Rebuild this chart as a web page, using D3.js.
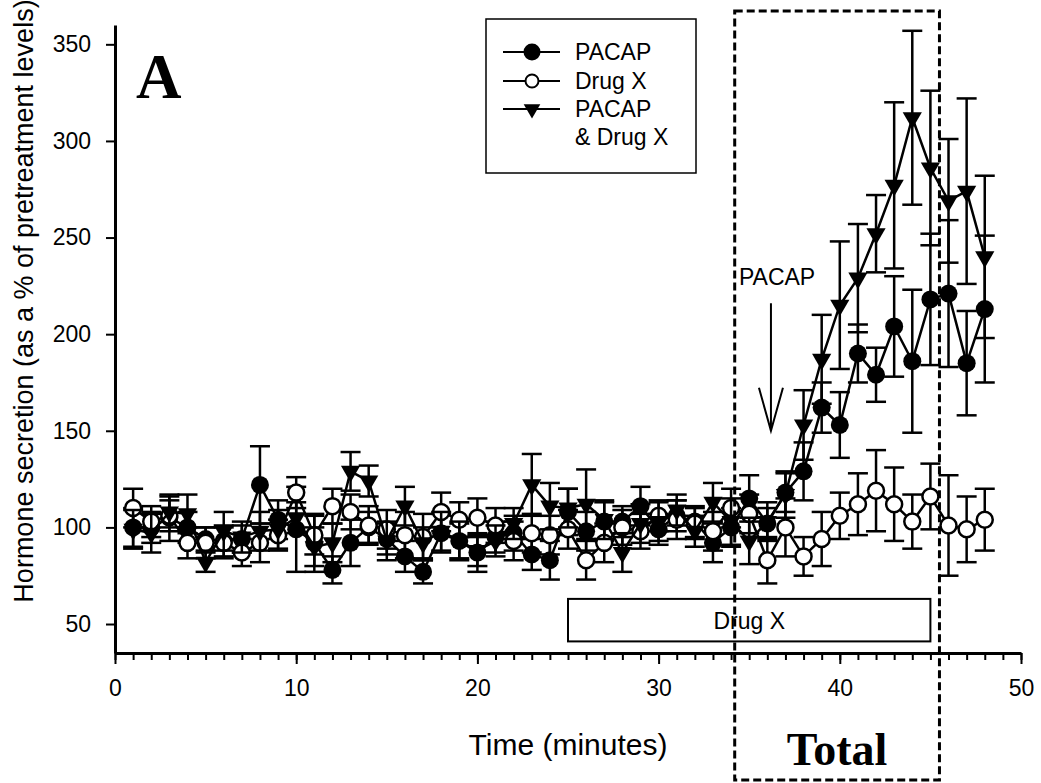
<!DOCTYPE html>
<html>
<head>
<meta charset="utf-8">
<script src="https://cdn.jsdelivr.net/npm/d3@7"></script>
<style>
  body { margin: 0; background: #fff; }
  svg { display: block; }
  text { font-family: Arial, "Liberation Sans", Helvetica, sans-serif; fill: #000; }
</style>
</head>
<body>
<div id="chart"></div>
<script>
// time points (minutes)
const times = d3.range(1, 49);

// PACAP alone (filled circles)
const pacap = [100,100,105,100,94,93,94,122,104,99,92,78,92,100,94,85,77,97,93,87,
               95,97,86,83,108,98,103,103,111,99,106,103,92,100,115,102,118,129,162,153,
               190,179,204,186,218,221,185,213];
const pacapErr = [10,8,12,8,6,8,7,20,10,22,15,7,12,8,8,8,6,10,9,10,
                  8,9,8,10,12,10,10,8,10,8,8,8,10,10,12,8,10,15,13,17,
                  15,14,26,37,34,38,27,38];

// Drug X alone (open circles)
const drugX = [110,103,106,92,92,92,87,92,96,118,96,111,108,101,99,96,95,108,104,105,
               101,93,97,96,99,83,92,100,98,106,104,102,98,110,107,83,100,85,94,106,
               112,119,112,103,116,101,99,104];
const drugXErr = [10,8,8,8,8,8,7,10,8,8,10,9,9,10,10,12,12,10,9,10,
                  9,10,10,10,10,10,10,9,9,8,10,8,10,10,10,12,15,10,14,12,
                  16,21,19,14,17,26,17,16];

// PACAP & Drug X (filled triangles)
const combo = [99,97,108,107,82,98,95,98,99,105,90,92,129,124,93,111,92,98,93,88,
               93,102,122,111,110,112,104,87,102,103,109,98,113,103,93,103,117,153,187,215,
               229,252,277,312,286,269,274,240];
const comboErr = [10,10,8,10,5,10,8,10,10,8,10,10,10,8,10,10,8,10,10,8,
                  8,8,16,12,10,18,10,10,10,10,8,8,10,12,12,10,12,18,23,33,
                  28,20,43,45,40,32,48,42];

const seriesNames = ['PACAP', 'Drug X', 'PACAP', '& Drug X'];
const xTicks = [0, 10, 20, 30, 40, 50];
const yTicks = [50, 100, 150, 200, 250, 300, 350];

// annotation values (in data units)
const drugBar = {from: 25, to: 45, low: 41, high: 63};
const pacapArrow = {t: 36.2, top: 216, tip: 150};
const totalWindow = [34.2, 45.5];

const W = 1041, H = 783;
const svg = d3.select('#chart').append('svg')
    .attr('width', W)
    .attr('height', H);

const x = d3.scaleLinear().domain([0, 50]).range([115, 1021]);
const y = d3.scaleLinear().domain([35, 360]).range([653, 25]);

//************** AXES ******************//
const yAxis = svg.append('g')
    .attr('transform', `translate(${x(0)},0)`)
    .call(d3.axisLeft(y).tickValues(yTicks).tickSize(9).tickSizeOuter(0).tickPadding(15));
yAxis.select('.domain').attr('stroke-width', 3);
yAxis.selectAll('.tick line').attr('stroke-width', 2);
yAxis.selectAll('text').style('font-size', '23px');

const xMinor = svg.append('g')
    .attr('transform', `translate(0,${y(35)})`)
    .call(d3.axisBottom(x).tickValues(d3.range(0, 51)).tickSize(7).tickSizeOuter(0).tickFormat(''));
xMinor.select('.domain').attr('stroke-width', 3);
xMinor.selectAll('.tick line').attr('stroke-width', 2);

const xMajor = svg.append('g')
    .attr('transform', `translate(0,${y(35)})`)
    .call(d3.axisBottom(x).tickValues(xTicks).tickSize(11).tickSizeOuter(0).tickPadding(16));
xMajor.select('.domain').remove();
xMajor.selectAll('.tick line').attr('stroke-width', 2);
xMajor.selectAll('text').style('font-size', '23px');

// axis titles
svg.append('text')
    .attr('transform', 'rotate(-90)')
    .attr('x', -301)
    .attr('y', 33)
    .attr('text-anchor', 'middle')
    .style('font-size', '27px')
    .text('Hormone secretion (as a % of pretreatment levels)');

svg.append('text')
    .attr('x', 568)
    .attr('y', 755)
    .attr('text-anchor', 'middle')
    .style('font-size', '30px')
    .text('Time (minutes)');

// panel letter
svg.append('text')
    .attr('x', 136)
    .attr('y', 98)
    .style('font-family', '"Liberation Serif", "Times New Roman", serif')
    .style('font-weight', 'bold')
    .style('font-size', '63px')
    .text('A');

//************* ANNOTATIONS *************//
svg.append('rect')
    .attr('x', x(drugBar.from))
    .attr('y', y(drugBar.high))
    .attr('width', x(drugBar.to) - x(drugBar.from))
    .attr('height', y(drugBar.low) - y(drugBar.high))
    .attr('fill', 'none')
    .attr('stroke', '#000')
    .attr('stroke-width', 2);
svg.append('text')
    .attr('x', x(35))
    .attr('y', y(drugBar.low) - 12)
    .attr('text-anchor', 'middle')
    .style('font-size', '23px')
    .text('Drug X');

// PACAP arrow
const ax = x(pacapArrow.t);
svg.append('text')
    .attr('x', ax - 32)
    .attr('y', y(pacapArrow.top) - 18)
    .style('font-size', '23px')
    .text('PACAP');
svg.append('line')
    .attr('x1', ax).attr('x2', ax)
    .attr('y1', y(pacapArrow.top)).attr('y2', y(pacapArrow.tip))
    .attr('stroke', '#000').attr('stroke-width', 2);
svg.append('path')
    .attr('d', `M${ax - 12},${y(pacapArrow.tip) - 43}L${ax},${y(pacapArrow.tip)}L${ax + 12},${y(pacapArrow.tip) - 43}`)
    .attr('fill', 'none')
    .attr('stroke', '#000')
    .attr('stroke-width', 2);

//************* SERIES *************//
const line = d3.line().x(d => x(d.t)).y(d => y(d.v));

function drawSeries(vals, errs, marker) {
    const pts = vals.map((v, i) => ({t: times[i], v: v, e: errs[i]}));
    const g = svg.append('g');

    // error bars
    const eb = g.selectAll('.err').data(pts).join('g').attr('class', 'err');
    eb.append('line')
        .attr('x1', d => x(d.t)).attr('x2', d => x(d.t))
        .attr('y1', d => y(d.v + d.e)).attr('y2', d => y(d.v - d.e))
        .attr('stroke', '#000').attr('stroke-width', 2.5);
    eb.append('line')
        .attr('x1', d => x(d.t) - 10).attr('x2', d => x(d.t) + 10)
        .attr('y1', d => y(d.v + d.e)).attr('y2', d => y(d.v + d.e))
        .attr('stroke', '#000').attr('stroke-width', 2.5);
    eb.append('line')
        .attr('x1', d => x(d.t) - 10).attr('x2', d => x(d.t) + 10)
        .attr('y1', d => y(d.v - d.e)).attr('y2', d => y(d.v - d.e))
        .attr('stroke', '#000').attr('stroke-width', 2.5);

    g.append('path')
        .datum(pts)
        .attr('d', line)
        .attr('fill', 'none')
        .attr('stroke', '#000')
        .attr('stroke-width', 2.5);

    if (marker === 'tri') {
        g.selectAll('.mk').data(pts).join('path')
            .attr('class', 'mk')
            .attr('d', d3.symbol(d3.symbolTriangle, 160))
            .attr('transform', d => `translate(${x(d.t)},${y(d.v)}) rotate(180)`)
            .attr('fill', '#000');
    } else {
        g.selectAll('.mk').data(pts).join('circle')
            .attr('class', 'mk')
            .attr('cx', d => x(d.t))
            .attr('cy', d => y(d.v))
            .attr('r', marker === 'open' ? 8 : 9)
            .attr('fill', marker === 'open' ? '#fff' : '#000')
            .attr('stroke', '#000')
            .attr('stroke-width', marker === 'open' ? 2.5 : 0);
    }
}

drawSeries(pacap, pacapErr, 'filled');
drawSeries(drugX, drugXErr, 'open');
drawSeries(combo, comboErr, 'tri');

// dashed "Total" window
const boxL = x(totalWindow[0]), boxR = x(totalWindow[1]);
svg.append('rect')
    .attr('x', boxL).attr('y', 11)
    .attr('width', boxR - boxL).attr('height', 769)
    .attr('fill', 'none')
    .attr('stroke', '#000')
    .attr('stroke-width', 3)
    .attr('stroke-dasharray', '8,4');
svg.append('text')
    .attr('x', (boxL + boxR) / 2)
    .attr('y', 765)
    .attr('text-anchor', 'middle')
    .style('font-family', '"Liberation Serif", "Times New Roman", serif')
    .style('font-weight', 'bold')
    .style('font-size', '46px')
    .text('Total');

//************* LEGEND *************//
const legend = svg.append('g');
legend.append('rect')
    .attr('x', 486).attr('y', 19)
    .attr('width', 210).attr('height', 154)
    .attr('fill', '#fff')
    .attr('stroke', '#000')
    .attr('stroke-width', 1.5);

const legendRows = [
    {label: seriesNames[0], marker: 'filled', yy: 52},
    {label: seriesNames[1], marker: 'open', yy: 81},
    {label: seriesNames[2], marker: 'tri', yy: 109},
    {label: seriesNames[3], marker: null, yy: 137}
];
legendRows.forEach(r => {
    legend.append('text')
        .attr('x', 575)
        .attr('y', r.yy + 8)
        .style('font-size', '23px')
        .text(r.label);
    if (!r.marker) return;
    legend.append('line')
        .attr('x1', 503).attr('x2', 560)
        .attr('y1', r.yy).attr('y2', r.yy)
        .attr('stroke', '#000').attr('stroke-width', 2);
    if (r.marker === 'tri') {
        legend.append('path')
            .attr('d', d3.symbol(d3.symbolTriangle, 120))
            .attr('transform', `translate(532,${r.yy}) rotate(180)`)
            .attr('fill', '#000');
    } else {
        legend.append('circle')
            .attr('cx', 532).attr('cy', r.yy)
            .attr('r', r.marker === 'open' ? 6.5 : 7.5)
            .attr('fill', r.marker === 'open' ? '#fff' : '#000')
            .attr('stroke', '#000')
            .attr('stroke-width', 2);
    }
});
</script>
</body>
</html>
